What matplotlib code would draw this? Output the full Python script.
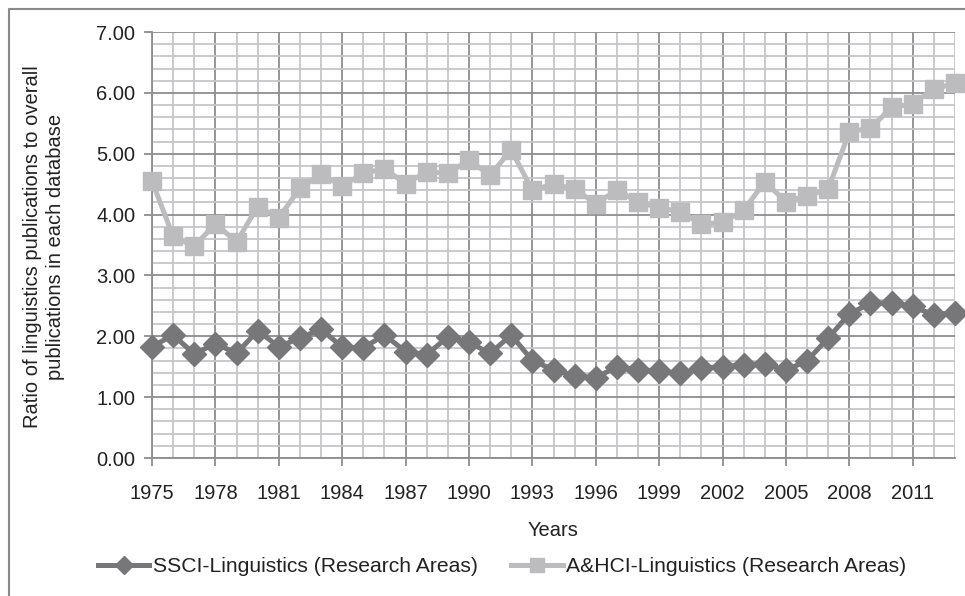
import matplotlib
matplotlib.use("Agg")
import matplotlib.pyplot as plt
from matplotlib.ticker import MultipleLocator, FixedLocator
from matplotlib.lines import Line2D

years = list(range(1975, 2014))
ssci = [1.83, 2.02, 1.71, 1.88, 1.72, 2.09, 1.83, 1.97, 2.12, 1.82,
        1.81, 2.02, 1.75, 1.70, 1.99, 1.90, 1.72, 2.02, 1.60, 1.45,
        1.35, 1.32, 1.50, 1.45, 1.43, 1.39, 1.48, 1.50, 1.53, 1.55,
        1.44, 1.60, 1.97, 2.37, 2.54, 2.55, 2.49, 2.35, 2.39]
ahci = [4.55, 3.64, 3.48, 3.85, 3.55, 4.13, 3.95, 4.43, 4.66, 4.47,
        4.68, 4.75, 4.51, 4.70, 4.68, 4.89, 4.65, 5.06, 4.40, 4.50,
        4.42, 4.18, 4.40, 4.21, 4.11, 4.05, 3.84, 3.87, 4.07, 4.54,
        4.21, 4.31, 4.42, 5.36, 5.42, 5.76, 5.82, 6.06, 6.16]
xtick_years = list(range(1975, 2012, 3))
ytick_vals = [0, 1, 2, 3, 4, 5, 6, 7]

plt.rcParams['font.family'] = ['Liberation Sans', 'DejaVu Sans']
FS = 14.5

fig = plt.figure(figsize=(9.65, 5.96), dpi=100)
W, H = 965, 596
ax = fig.add_axes([152 / W, 1 - 458 / H, (955 - 152) / W, (458 - 32) / H])

major_c = '#8e8e90'
minor_c = '#c6c6c8'

ax.set_xlim(1975, 2013)
ax.set_ylim(0, 7)
ax.xaxis.set_major_locator(FixedLocator(xtick_years))
ax.xaxis.set_minor_locator(MultipleLocator(1))
ax.yaxis.set_major_locator(FixedLocator(ytick_vals))
ax.yaxis.set_minor_locator(MultipleLocator(0.2))
ax.set_yticklabels([f"{v:.2f}" for v in ytick_vals])
ax.set_xticklabels([str(y) for y in xtick_years])

ax.grid(which='minor', color=minor_c, lw=1.3, zorder=0)
ax.grid(which='major', color=major_c, lw=1.3, zorder=0)
ax.set_axisbelow(True)

ax.tick_params(axis='both', which='major', length=6, width=1.3, color=major_c,
               labelsize=FS, labelcolor='#222222')
ax.tick_params(axis='y', which='major', pad=6)
ax.tick_params(axis='x', which='major', pad=13)
ax.tick_params(which='minor', length=0)

for s in ['top', 'right']:
    ax.spines[s].set_visible(False)
for s in ['left', 'bottom']:
    ax.spines[s].set_color(major_c)
    ax.spines[s].set_linewidth(1.3)

c_ssci = '#77777a'
c_ahci = '#bcbcbe'
ax.plot(years, ahci, color=c_ahci, lw=3.6, marker='s', ms=13.5,
        label='A&HCI-Linguistics (Research Areas)', clip_on=False, zorder=3)
ax.plot(years, ssci, color=c_ssci, lw=3.6, marker='D', ms=12.5,
        label='SSCI-Linguistics (Research Areas)', clip_on=False, zorder=4)

fig.text(44 / W, 1 - 247 / H,
         "Ratio of linguistics publications to overall\npublications in each database",
         rotation=90, ha='center', va='center', multialignment='center',
         fontsize=FS, linespacing=1.25, color='#222222')
fig.text(553 / W, 1 - 531 / H, "Years", ha='center', va='center', fontsize=FS,
         color='#222222')

handles, labels = ax.get_legend_handles_labels()
leg = fig.legend(handles[::-1], labels[::-1], loc='center',
                 bbox_to_anchor=(502 / W, 1 - 567 / H), ncol=2, frameon=False,
                 fontsize=15.2, handlelength=2.45, handletextpad=0.15,
                 columnspacing=1.6, markerscale=0.75)
for t in leg.get_texts():
    t.set_color('#222222')

frame_c = '#8a8a8a'
fig.add_artist(Line2D([9 / W, 9 / W, 1.0], [0, 1 - 9 / H, 1 - 9 / H],
                      color=frame_c, lw=1.5, transform=fig.transFigure))

fig.savefig('out.png', dpi=100)
